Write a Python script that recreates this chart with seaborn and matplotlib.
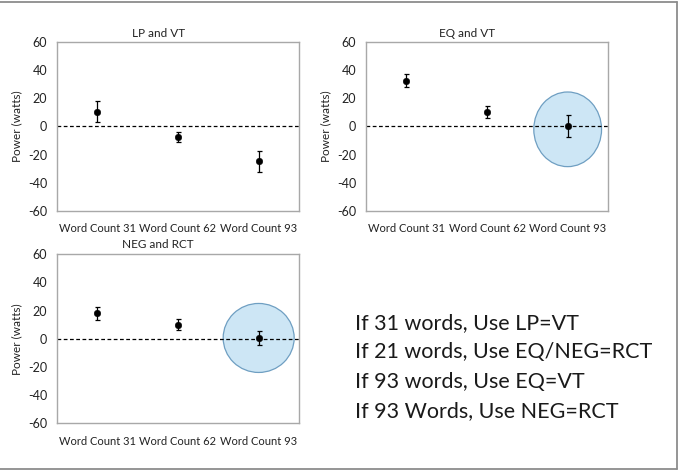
import pandas as pd
import seaborn as sns
import matplotlib.pyplot as plt
from matplotlib.patches import Ellipse
from matplotlib.lines import Line2D

sns.set_style('white')
plt.rcParams['font.family'] = ['Lato', 'DejaVu Sans']
plt.rcParams['axes.unicode_minus'] = False

categories = ['Word Count 31', 'Word Count 62', 'Word Count 93']
titles = ['LP and VT', 'EQ and VT', 'NEG and RCT']

lp_vt_mean = [10.5, -7.5, -24.8]
lp_vt_err = [7.5, 3.8, 7.3]
eq_vt_mean = [32.4, 10.4, 0.3]
eq_vt_err = [4.7, 4.5, 7.8]
neg_rct_mean = [18.0, 10.0, 0.5]
neg_rct_err = [4.7, 4.0, 5.2]

# highlighted point (category index, centre y, half width, half height) per panel
highlight = [None, (2, -2.0, 0.42, 26.5), (2, 0.6, 0.44, 24.5)]

notes = ['If 31 words, Use LP=VT',
         'If 21 words, Use EQ/NEG=RCT',
         'If 93 words, Use EQ=VT',
         'If 93 Words, Use NEG=RCT']

fig = plt.figure(figsize=(6.85, 4.72), dpi=100)
boxes = [[0.0832, 0.553, 0.3533, 0.358],
         [0.5343, 0.553, 0.3533, 0.358],
         [0.0832, 0.1032, 0.3533, 0.358]]
title_pos = [(0.231, 0.930), (0.682, 0.930), (0.231, 0.481)]
means = [lp_vt_mean, eq_vt_mean, neg_rct_mean]
errs = [lp_vt_err, eq_vt_err, neg_rct_err]

for i in range(3):
    ax = fig.add_axes(boxes[i])
    df = pd.DataFrame({'cat': categories, 'power': means[i], 'err': errs[i]})
    if highlight[i] is not None:
        cx, cy, hw, hh = highlight[i]
        ax.add_patch(Ellipse((cx, cy), 2 * hw, 2 * hh, facecolor='#cde6f5',
                             edgecolor='#6f9fc2', lw=0.9, zorder=1))
    ax.axhline(0, color='black', ls=(0, (3, 2)), lw=0.9, zorder=2)
    ax.errorbar(range(len(df)), df['power'], yerr=df['err'], fmt='none',
                ecolor='black', elinewidth=0.9, capsize=1.8, capthick=0.9, zorder=3)
    sns.scatterplot(data=df, x='cat', y='power', ax=ax, color='black', s=22,
                    edgecolor='black', zorder=4)
    ax.set_xlim(-0.5, 2.5)
    ax.set_ylim(-60, 60)
    ax.set_yticks([-60, -40, -20, 0, 20, 40, 60])
    ax.tick_params(axis='both', length=0, colors='#222222')
    ax.tick_params(axis='y', pad=7, labelsize=9)
    ax.tick_params(axis='x', pad=9, labelsize=8)
    for sp in ax.spines.values():
        sp.set_color('#a8a8a8')
        sp.set_linewidth(1)
        sp.set_visible(True)
    ax.set_xlabel('')
    ax.set_ylabel('Power (watts)', fontsize=8.5, color='#222222', labelpad=4)
    fig.text(title_pos[i][0], title_pos[i][1], titles[i], ha='center', va='center',
             fontsize=8.5, color='#222222')

for k, line in enumerate(notes):
    fig.text(0.518, 0.316 - k * 0.0625, line, ha='left', va='center',
             fontsize=15.5, color='#1a1a1a')

# outer frame
frame = dict(color='#8c8c8c', lw=1.3, transform=fig.transFigure)
fig.add_artist(Line2D([0, 0.989], [0.995, 0.995], **frame))
fig.add_artist(Line2D([0.989, 0.989], [0.995, 0.006], **frame))
fig.add_artist(Line2D([0, 0.989], [0.006, 0.006], **frame))

fig.savefig('out.png', dpi=100, facecolor='white')
